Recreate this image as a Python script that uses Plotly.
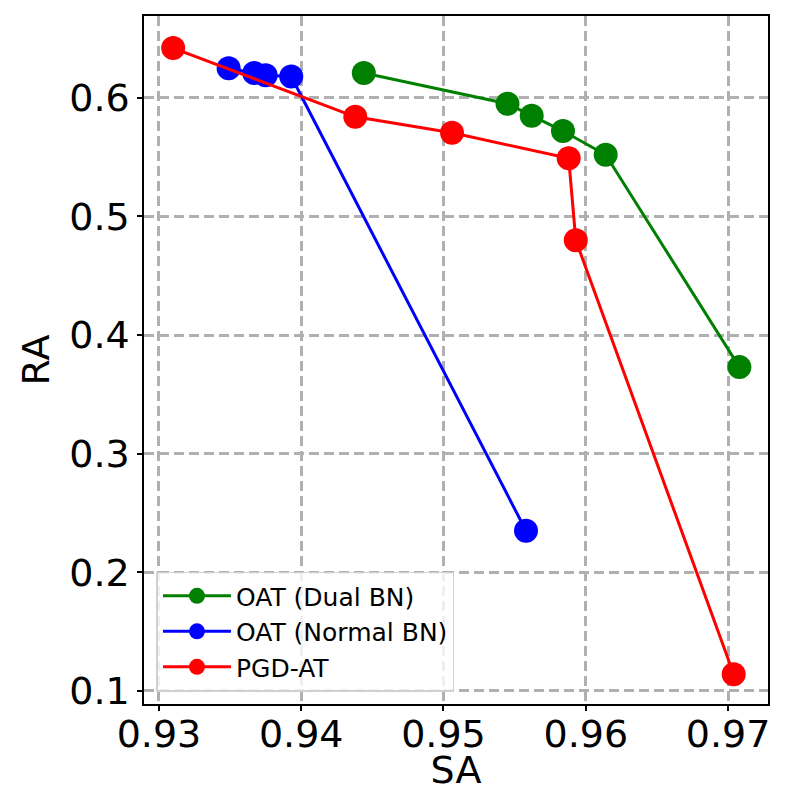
import plotly.graph_objs as go

# SA / RA values
dual_sa = [0.9444, 0.9545, 0.9562, 0.9584, 0.9614, 0.9708]
dual_ra = [0.621, 0.595, 0.585, 0.572, 0.552, 0.373]

normal_sa = [0.9349, 0.9367, 0.9375, 0.9393, 0.9558]
normal_ra = [0.625, 0.621, 0.619, 0.618, 0.235]

pgd_sa = [0.9310, 0.9438, 0.9506, 0.9588, 0.9593, 0.9704]
pgd_ra = [0.642, 0.584, 0.5705, 0.549, 0.480, 0.114]

x_ticks = [0.93, 0.94, 0.95, 0.96, 0.97]
y_ticks = [0.1, 0.2, 0.3, 0.4, 0.5, 0.6]

font = "DejaVu Sans"

fig = go.Figure()
for name, xs, ys, col in [("OAT (Dual BN)", dual_sa, dual_ra, "green"),
                          ("OAT (Normal BN)", normal_sa, normal_ra, "blue"),
                          ("PGD-AT", pgd_sa, pgd_ra, "red")]:
    fig.add_trace(go.Scatter(x=xs, y=ys, name=name, mode="lines+markers",
                             line=dict(color=col, width=3),
                             marker=dict(color=col, size=24)))

axis_common = dict(showline=True, linecolor="black", linewidth=1.5, mirror=True,
                   ticks="outside", ticklen=5, tickwidth=1.5, tickcolor="black",
                   showgrid=True, gridcolor="#b0b0b0", gridwidth=2.5, griddash="10px,5px",
                   zeroline=False, tickfont=dict(size=38, color="black", family=font),
                   title_font=dict(size=38, color="black", family=font))

# page body adds an 8px offset, so the figure is a bit smaller than the window
fig.update_layout(
    width=784, height=784,
    plot_bgcolor="white", paper_bgcolor="white",
    margin=dict(l=136, r=24, t=8, b=88, autoexpand=False),
    xaxis=dict(range=[0.92895, 0.97281], tickvals=x_ticks, tickformat=".2f",
               ticklabelstandoff=-9,
               title=dict(text="SA", standoff=10), **axis_common),
    yaxis=dict(range=[0.089, 0.669], tickvals=y_ticks, tickformat=".1f",
               title=dict(text="RA", standoff=8), **axis_common),
    legend=dict(x=0.02, y=0.018, xanchor="left", yanchor="bottom",
                bgcolor="rgba(255,255,255,0.8)", bordercolor="#d0d0d0", borderwidth=1.5,
                font=dict(size=25, color="black", family=font), itemwidth=68,
                tracegroupgap=0),
    showlegend=True,
)

fig.write_html("out.html")
